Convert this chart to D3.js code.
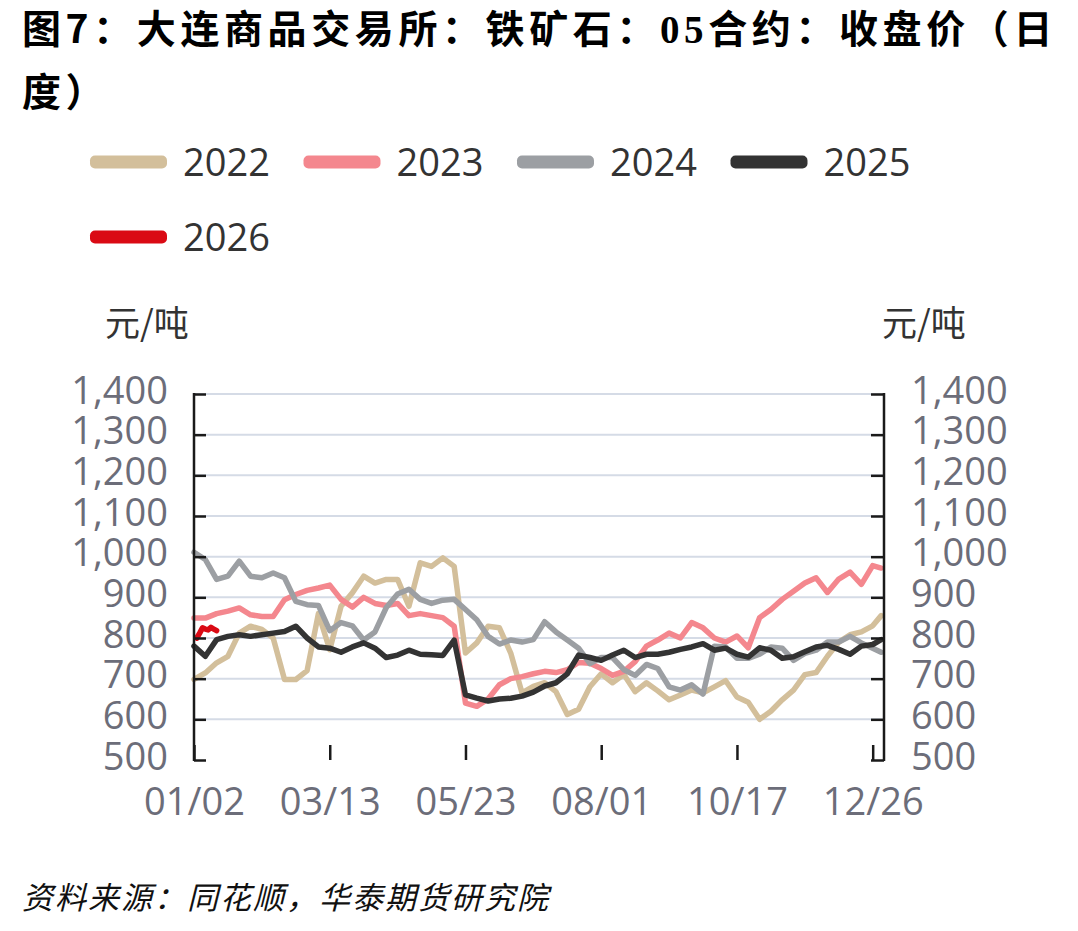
<!DOCTYPE html>
<html><head><meta charset="utf-8">
<script src="https://cdn.jsdelivr.net/npm/d3@7"></script>
<style>body{margin:0;background:#fff}</style></head>
<body><svg id="c" width="1078" height="931"></svg>
<script>
// ---- data ----
const seriesNames = ["2022", "2023", "2024", "2025", "2026"];
const seriesColors = ["#D3BF9B", "#F4878E", "#9C9FA3", "#333333", "#DA0A14"];
// trading-day index of each sample (every 4th trading day)
const dayIdx = d3.range(0, 241, 4).concat([243]);
const s2022 = [698,714,739,755,812,829,821,800,698,698,
  720,860,771,878,911,952,935,944,944,878,
  985,976,997,976,763,788,829,825,763,665,
  681,690,668,612,625,680,712,690,710,668,
  690,670,648,660,672,665,680,695,655,642,
  600,620,648,672,710,715,755,790,808,815,
  830,855];
const s2023 = [849,849,860,866,874,857,853,853,894,907,
  917,923,930,895,876,900,885,880,885,855,
  860,855,850,829,640,632,650,685,700,705,
  712,718,715,722,740,738,725,708,718,742,
  780,795,812,800,838,825,800,790,805,776,
  850,870,895,915,935,948,912,945,962,932,
  978,972];
const s2024 = [1011,993,944,952,989,952,948,960,948,890,
  882,880,818,838,830,795,815,875,908,920,
  895,885,893,895,870,845,804,785,795,790,
  796,840,815,795,775,737,752,752,722,708,
  735,725,680,672,685,662,780,778,750,750,
  760,778,775,745,762,770,790,790,804,788,
  775,765];
const s2025 = [780,755,796,804,808,804,808,812,816,829,
  800,778,775,765,778,788,775,752,758,770,
  760,759,757,795,660,652,645,650,652,657,
  667,682,690,712,758,752,745,758,770,752,
  760,760,765,772,778,786,770,775,760,753,
  776,770,750,754,766,778,782,772,760,780,
  784,796];
const idx2026 = [1,2,3,4,5,6,7,8];
const s2026 = [800,812,825,822,820,826,822,818];
const xTickIdx = [0, 48, 96, 144, 192, 240];
const xTickLabels = ["01/02", "03/13", "05/23", "08/01", "10/17", "12/26"];
const yTicks = [500,600,700,800,900,1000,1100,1200,1300,1400];

const series = [
  {name: seriesNames[0], color: seriesColors[0], pts: dayIdx.map((d,i)=>[d, s2022[i]])},
  {name: seriesNames[1], color: seriesColors[1], pts: dayIdx.map((d,i)=>[d, s2023[i]])},
  {name: seriesNames[2], color: seriesColors[2], pts: dayIdx.map((d,i)=>[d, s2024[i]])},
  {name: seriesNames[3], color: seriesColors[3], pts: dayIdx.map((d,i)=>[d, s2025[i]])},
  {name: seriesNames[4], color: seriesColors[4], pts: idx2026.map((d,i)=>[d, s2026[i]])}
];

// ---- layout ----
const svg = d3.select("#c");
const L = 194, R = 884, T = 394, B = 760;
const x = d3.scaleLinear().domain([0, 244]).range([L, R]);
const y = d3.scaleLinear().domain([500, 1400]).range([B, T]);
const cjk = "'Noto Sans CJK SC', 'Noto Sans', sans-serif";
const num = "'Open Sans', 'Noto Sans', sans-serif";

// title
const t1 = svg.append("text").attr("x", 22).attr("y", 43)
  .attr("font-family", cjk).attr("font-weight", "bold").attr("font-size", 39)
  .attr("letter-spacing", 4.6).attr("fill", "#000");
t1.append("tspan").text("图7：大连商品交易所：铁矿石：");
t1.append("tspan").attr("font-family", "'Liberation Serif', serif").text("05");
t1.append("tspan").text("合约：收盘价（日");
svg.append("text").attr("x", 22).attr("y", 106)
  .attr("font-family", cjk).attr("font-weight", "bold").attr("font-size", 39)
  .attr("letter-spacing", 4.6).attr("fill", "#000").text("度）");

// legend
const leg = svg.append("g");
series.forEach((s, i) => {
  const col = i % 4, row = Math.floor(i / 4);
  const lx = 90 + col * 213.5, ly = 162 + row * 75;
  leg.append("rect").attr("x", lx).attr("y", ly - 6.5).attr("width", 77).attr("height", 13)
    .attr("rx", 5).attr("fill", s.color);
  leg.append("text").attr("x", lx + 93).attr("y", ly + 14)
    .attr("font-family", num).attr("font-size", 38).attr("fill", "#333").text(s.name);
});

// unit labels
svg.append("text").attr("x", 105).attr("y", 336).attr("font-family", cjk)
  .attr("font-size", 35).attr("fill", "#333").text("元/吨");
svg.append("text").attr("x", 882).attr("y", 336).attr("font-family", cjk)
  .attr("font-size", 35).attr("fill", "#333").text("元/吨");

// gridlines
svg.append("g").selectAll("line").data(yTicks.filter(v => v > 500)).join("line")
  .attr("x1", L).attr("x2", R).attr("y1", d => y(d)).attr("y2", d => y(d))
  .attr("stroke", "#D5DBE6").attr("stroke-width", 2);

// series lines
const line = d3.line().x(d => x(d[0])).y(d => y(d[1])).curve(d3.curveLinear);
svg.append("g").selectAll("path").data(series).join("path")
  .attr("d", d => line(d.pts)).attr("fill", "none")
  .attr("stroke", d => d.color).attr("stroke-width", 5.5)
  .attr("stroke-linejoin", "round").attr("stroke-linecap", "round");

// axes
function styleAxis(g) {
  g.select(".domain").remove();
  g.selectAll(".tick line").attr("stroke", "#1a1a1a").attr("stroke-width", 2.5);
  g.selectAll(".tick text").attr("font-family", num).attr("font-size", 38).attr("fill", "#6c6d79");
}
const fmt = d3.format(",");
svg.append("g").attr("transform", `translate(${L},0)`)
  .call(d3.axisLeft(y).tickValues(yTicks).tickFormat(fmt).tickSize(-12).tickSizeOuter(0).tickPadding(26))
  .call(styleAxis).call(g => g.selectAll(".tick text").attr("dy", "0.24em"));
svg.append("g").attr("transform", `translate(${R},0)`)
  .call(d3.axisRight(y).tickValues(yTicks).tickFormat(fmt).tickSize(-13).tickSizeOuter(0).tickPadding(27))
  .call(styleAxis).call(g => g.selectAll(".tick text").attr("dy", "0.24em"));
svg.append("g").attr("transform", `translate(0,${B})`)
  .call(d3.axisBottom(x).tickValues(xTickIdx).tickFormat((d, i) => xTickLabels[i]).tickSize(-15).tickSizeOuter(0).tickPadding(28))
  .call(styleAxis);
// vertical axis lines
svg.append("line").attr("x1", L).attr("x2", L).attr("y1", T - 1).attr("y2", B + 1)
  .attr("stroke", "#1a1a1a").attr("stroke-width", 2.5);
svg.append("line").attr("x1", R).attr("x2", R).attr("y1", T - 1).attr("y2", B + 1)
  .attr("stroke", "#1a1a1a").attr("stroke-width", 2.5);

// source
svg.append("text").attr("x", 22).attr("y", 909).attr("font-family", cjk)
  .attr("font-size", 31).attr("font-style", "italic").attr("letter-spacing", 2)
  .attr("fill", "#111").text("资料来源：同花顺，华泰期货研究院");
</script></body></html>
